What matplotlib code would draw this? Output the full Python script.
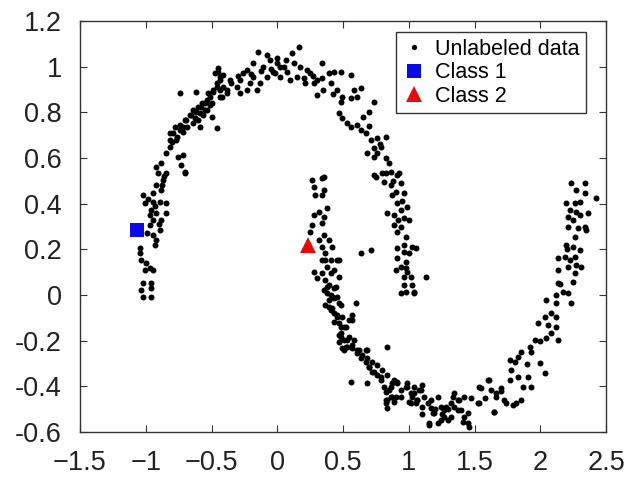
import numpy as np
import matplotlib
matplotlib.use('Agg')
import matplotlib.pyplot as plt

# --- dades llegides de la figura ---
upper_moon = np.array([
    # extrem esquerre
    [-0.844, 0.533], [-0.869, 0.504], [-0.920, 0.482], [-0.882, 0.460], [-0.946, 0.445],
    [-0.704, 0.533], [-1.022, 0.438], [-1.009, 0.402], [-0.946, 0.409], [-0.895, 0.409],
    [-0.844, 0.402], [-0.958, 0.372], [-0.920, 0.358], [-0.844, 0.358], [-0.882, 0.329],
    [-0.946, 0.329], [-0.971, 0.307], [-0.895, 0.285], [-0.946, 0.263], [-0.920, 0.241],
    [-1.047, 0.204], [-1.047, 0.183], [-1.035, 0.154], [-0.996, 0.139], [-0.971, 0.117],
    [-0.946, 0.110], [-1.009, 0.110], [-1.022, 0.051], [-0.958, 0.051], [-1.035, 0.022],
    [-0.958, 0.029], [-1.022, -0.007], [-0.958, -0.007],
    [-0.980, 0.420], [-0.930, 0.390], [-0.970, 0.350], [-0.900, 0.310], [-0.990, 0.270],
    [-0.930, 0.220], [-0.880, 0.480], [-0.860, 0.520],
    # arc esquerre
    [-0.920, 0.562], [-0.882, 0.577], [-0.907, 0.533], [-0.844, 0.621], [-0.818, 0.650],
    [-0.767, 0.679], [-0.793, 0.708], [-0.742, 0.723], [-0.717, 0.737], [-0.755, 0.606],
    [-0.717, 0.613], [-0.729, 0.569], [-0.704, 0.540], [-0.818, 0.679], [-0.691, 0.766],
    [-0.653, 0.788], [-0.615, 0.803], [-0.577, 0.825], [-0.640, 0.752], [-0.602, 0.766],
    [-0.564, 0.788], [-0.538, 0.810], [-0.513, 0.832], [-0.589, 0.737], [-0.551, 0.839],
    [-0.500, 0.781], [-0.462, 0.730], [-0.742, 0.886], [-0.615, 0.891], [-0.526, 0.883],
    [-0.488, 0.898], [-0.462, 0.927], [-0.437, 0.956], [-0.411, 0.912], [-0.475, 0.971],
    [-0.449, 0.993], [-0.424, 0.869], [-0.386, 0.898], [-0.360, 0.942], [-0.437, 0.898],
    [-0.309, 0.912], [-0.284, 0.942], [-0.258, 0.971], [-0.233, 0.985], [-0.208, 0.927],
    [-0.182, 0.956], [-0.157, 0.898], [-0.284, 0.883], [-0.233, 0.898], [-0.131, 0.927],
    [-0.080, 0.956], [-0.106, 1.000], [-0.055, 1.029], [-0.030, 0.978], [-0.144, 1.066],
    [-0.080, 1.051], [-0.004, 1.015], [-0.182, 1.015],
    [-0.817, 0.708], [-0.779, 0.737], [-0.740, 0.745], [-0.702, 0.767], [-0.664, 0.788],
    [-0.639, 0.810], [-0.601, 0.825], [-0.575, 0.840], [-0.537, 0.854], [-0.511, 0.869],
    [-0.486, 0.891], [-0.461, 0.912], [-0.435, 0.942], [-0.410, 0.964], [-0.448, 0.978],
    [-0.804, 0.672], [-0.766, 0.694], [-0.690, 0.737], [-0.626, 0.774], [-0.550, 0.810],
    [-0.499, 0.840], [-0.435, 0.869], [-0.384, 0.883], [-0.715, 0.715], [-0.588, 0.796],
    [-0.350, 0.930], [-0.300, 0.960], [-0.200, 0.970], [-0.120, 0.980], [-0.050, 0.990],
    # part de dalt
    [0.163, 1.088], [0.112, 1.058], [-0.003, 1.037], [0.048, 1.000], [-0.015, 0.971],
    [0.023, 0.956], [0.074, 0.978], [0.125, 1.015], [0.176, 1.000], [0.150, 0.956],
    [0.099, 0.942], [0.226, 0.985], [0.252, 0.971], [0.341, 1.015], [0.214, 0.927],
    [0.277, 0.927], [0.303, 0.942], [0.341, 0.949], [0.392, 0.971], [0.430, 0.978],
    [0.481, 0.978], [0.557, 0.964], [0.405, 0.927], [0.455, 0.898], [0.494, 0.869],
    [0.481, 0.847], [0.303, 0.876], [0.583, 0.898], [0.634, 0.905], [0.608, 0.869],
    [0.557, 0.861], [0.735, 0.847], [0.697, 0.803], [0.468, 0.796], [0.494, 0.774],
    [0.532, 0.752], [0.557, 0.737], [0.608, 0.745], [0.634, 0.723], [0.672, 0.708],
    [0.710, 0.679], [0.761, 0.686], [0.824, 0.694], [0.786, 0.650], [0.735, 0.642],
    [0.685, 0.621], [0.735, 0.606], [0.824, 0.599], [0.761, 0.621], [0.735, 0.526],
    [0.824, 0.533], [0.926, 0.533],
    [0.020, 1.000], [0.070, 1.030], [0.200, 0.950], [0.270, 0.960], [0.350, 0.900],
    [0.420, 0.880], [0.650, 0.780], [0.700, 0.740], [0.780, 0.660], [0.850, 0.580],
    # extrem dret
    [0.748, 0.518], [0.799, 0.533], [0.863, 0.540], [0.913, 0.526], [0.812, 0.497],
    [0.863, 0.482], [0.939, 0.489], [0.875, 0.438], [0.964, 0.445], [0.913, 0.402],
    [0.837, 0.358], [0.888, 0.351], [0.939, 0.372], [0.990, 0.387], [0.964, 0.336],
    [1.003, 0.329], [0.888, 0.307], [0.939, 0.299], [0.913, 0.278], [0.977, 0.256],
    [1.028, 0.212], [1.053, 0.205], [0.913, 0.205], [0.964, 0.190], [1.003, 0.183],
    [0.913, 0.161], [0.977, 0.146], [0.939, 0.124], [0.901, 0.110], [0.990, 0.102],
    [0.964, 0.080], [1.015, 0.080], [1.130, 0.080], [0.964, 0.044], [1.028, 0.044],
    [0.977, 0.015], [1.041, 0.015], [0.939, 0.008], [1.041, 0.008],
    [0.880, 0.500], [0.900, 0.450], [0.950, 0.410], [0.920, 0.330], [0.960, 0.220],
    [0.980, 0.120],
    [0.634, 0.183], [0.710, 0.197],
])

lower_moon = np.array([
    # extrem esquerre
    [0.354, 0.518], [0.265, 0.504], [0.341, 0.511], [0.277, 0.475], [0.354, 0.460],
    [0.290, 0.438], [0.341, 0.438], [0.277, 0.350], [0.315, 0.365], [0.379, 0.380],
    [0.354, 0.343], [0.265, 0.307], [0.341, 0.314], [0.252, 0.278], [0.354, 0.263],
    [0.392, 0.241], [0.315, 0.241], [0.417, 0.212], [0.366, 0.183], [0.341, 0.154],
    [0.405, 0.154], [0.468, 0.154], [0.379, 0.124], [0.430, 0.110], [0.277, 0.102],
    [0.303, 0.073], [0.366, 0.066], [0.392, 0.044], [0.430, 0.029], [0.354, 0.022],
    [0.405, 0.000], [0.455, -0.007],
    [0.341, 0.212], [0.366, 0.153], [0.455, 0.153], [0.341, 0.095], [0.405, 0.095],
    [0.468, 0.081], [0.379, 0.037], [0.443, 0.037], [0.417, -0.007], [0.468, -0.036],
    [0.595, -0.036], [0.392, -0.051], [0.430, -0.080], [0.494, -0.095], [0.570, -0.109],
    [0.468, -0.124], [0.519, -0.139], [0.481, -0.168], [0.545, -0.182], [0.583, -0.197],
    [0.519, -0.226], [0.621, -0.241], [0.684, -0.241],
    # baixada
    [0.379, 0.008], [0.430, -0.014], [0.366, -0.043], [0.405, -0.065], [0.481, -0.043],
    [0.455, -0.095], [0.570, -0.087], [0.545, -0.109], [0.506, -0.138],
    [0.481, -0.182], [0.468, -0.204], [0.532, -0.197], [0.570, -0.219], [0.608, -0.241],
    [0.506, -0.241], [0.646, -0.262], [0.684, -0.277], [0.672, -0.241], [0.723, -0.292],
    [0.697, -0.314], [0.761, -0.306], [0.735, -0.335], [0.799, -0.328], [0.837, -0.226],
    [0.786, -0.357], [0.837, -0.350], [0.888, -0.372], [0.863, -0.401], [0.913, -0.379],
    [0.824, -0.423], [0.863, -0.445], [0.824, -0.474], [0.888, -0.467], [0.939, -0.445],
    [0.557, -0.379], [0.684, -0.387],
    [0.392, -0.022], [0.417, -0.058], [0.456, -0.087], [0.430, -0.116], [0.481, -0.138],
    [0.468, -0.175], [0.506, -0.197], [0.532, -0.226], [0.570, -0.233], [0.608, -0.255],
    [0.634, -0.277], [0.672, -0.292], [0.697, -0.314], [0.723, -0.335], [0.761, -0.350],
    [0.786, -0.372], [0.812, -0.401], [0.850, -0.416], [0.875, -0.445], [0.837, -0.460],
    [0.913, -0.387], [0.939, -0.416], [0.990, -0.401], [1.041, -0.430], [1.092, -0.416],
    [1.066, -0.460], [1.015, -0.474], [0.494, -0.233],
    # fons
    [0.990, -0.387], [1.041, -0.401], [1.079, -0.416], [1.104, -0.394], [1.015, -0.430],
    [1.066, -0.460], [1.117, -0.445], [1.143, -0.474], [1.168, -0.496], [1.219, -0.445],
    [1.193, -0.518], [1.244, -0.489], [1.270, -0.533], [1.321, -0.474], [1.346, -0.430],
    [1.372, -0.503], [1.295, -0.547], [1.155, -0.569], [1.219, -0.562],
    [0.824, -0.460], [0.837, -0.496], [0.901, -0.445], [0.875, -0.387], [0.977, -0.401],
    [1.028, -0.445], [1.053, -0.474], [1.104, -0.489], [1.168, -0.460], [1.181, -0.518],
    [1.244, -0.547], [1.155, -0.562], [1.282, -0.489], [1.333, -0.445], [1.384, -0.460],
    [1.410, -0.555], [1.461, -0.577], [1.448, -0.518], [1.537, -0.401], [1.613, -0.372],
    [1.664, -0.430], [1.651, -0.511], [1.740, -0.474], [1.817, -0.474], [1.537, -0.474],
    [1.200, -0.500], [1.250, -0.520], [1.300, -0.500], [1.100, -0.520], [1.000, -0.470],
    # pujada dreta
    [2.236, 0.489], [2.338, 0.489], [2.275, 0.460], [2.338, 0.445], [2.427, 0.424],
    [2.198, 0.402], [2.262, 0.402], [2.300, 0.409], [2.224, 0.372], [2.275, 0.365],
    [2.364, 0.358], [2.211, 0.343], [2.249, 0.329], [2.211, 0.299], [2.287, 0.292],
    [2.338, 0.299], [2.351, 0.285], [2.262, 0.256], [2.198, 0.219], [2.249, 0.212],
    [2.300, 0.197], [2.135, 0.161], [2.185, 0.168], [2.224, 0.153], [2.262, 0.168],
    [2.211, 0.124], [2.275, 0.132], [2.313, 0.124], [2.135, 0.110], [2.262, 0.095],
    [2.249, 0.059], [2.135, 0.051], [2.173, 0.015], [2.211, 0.008], [2.122, 0.000],
    [2.236, -0.036], [2.046, -0.022], [2.122, -0.036], [2.033, -0.095], [2.122, -0.095],
    [1.982, -0.124], [2.058, -0.131], [2.122, -0.139], [2.084, -0.168], [2.046, -0.190],
    [2.135, -0.197], [1.957, -0.197], [1.918, -0.226], [1.931, -0.248], [1.855, -0.248],
    [1.829, -0.270], [1.804, -0.292], [1.766, -0.285], [1.778, -0.328], [1.829, -0.357],
    [1.906, -0.357], [1.931, -0.401], [1.867, -0.401], [1.766, -0.372], [1.995, -0.299],
    [2.033, -0.343], [1.600, -0.372], [1.549, -0.409], [1.626, -0.416], [1.702, -0.409],
    [1.664, -0.445], [1.727, -0.460], [1.791, -0.482], [1.855, -0.460], [1.524, -0.474],
    [1.473, -0.452], [1.422, -0.445], [1.371, -0.460], [1.346, -0.489], [1.397, -0.503],
    [1.320, -0.533], [1.422, -0.533], [1.448, -0.562], [1.269, -0.503], [1.651, -0.511],
    [1.900, -0.300], [2.000, -0.200], [2.080, -0.080], [2.150, 0.050], [2.200, 0.200],
    [2.300, 0.350], [1.700, -0.420], [1.580, -0.450],
])

class1 = [-1.07, 0.285]
class2 = [0.23, 0.22]

xticks = [-1.5, -1, -0.5, 0, 0.5, 1, 1.5, 2, 2.5]
yticks = [-0.6, -0.4, -0.2, 0, 0.2, 0.4, 0.6, 0.8, 1, 1.2]

plt.rcParams['font.family'] = ['Liberation Sans', 'DejaVu Sans']

fig = plt.figure(figsize=(6.3, 4.84), dpi=100)
ax = fig.add_axes([0.127, 0.1074, 0.835, 0.8492])

unl = np.vstack([upper_moon, lower_moon])
ax.plot(unl[:, 0], unl[:, 1], 'o', color='black', markersize=4.3,
        markeredgewidth=0, label='Unlabeled data')
ax.plot(class1[0], class1[1], 's', color='#0a0ae6', markersize=10,
        markeredgewidth=0, label='Class 1')
ax.plot(class2[0], class2[1], '^', color='#e60a0a', markersize=12,
        markeredgewidth=0, label='Class 2')

ax.set_xlim(-1.5, 2.5)
ax.set_ylim(-0.6, 1.2)
ax.set_xticks(xticks)
ax.set_xticklabels([('\u2212' + f'{abs(v):g}') if v < 0 else f'{v:g}' for v in xticks])
ax.set_yticks(yticks)
ax.set_yticklabels([('-' + f'{abs(v):g}') if v < 0 else f'{v:g}' for v in yticks])
ax.tick_params(direction='in', length=5, width=0.8, top=True, right=True,
               labelsize=19.5, pad=13, colors='#333333', labelcolor='#222222')
for s in ax.spines.values():
    s.set_color('#333333')
    s.set_linewidth(1.0)

leg = ax.legend(loc='upper right', bbox_to_anchor=(0.962, 0.973), borderaxespad=0,
                fontsize=15.5, numpoints=1, fancybox=False, framealpha=1,
                edgecolor='#333333', handlelength=1.0, handletextpad=0.5,
                labelspacing=0.12, borderpad=0.3)
leg.get_frame().set_linewidth(1.0)
leg.legend_handles[0].set_markersize(3.8)

plt.savefig('out.png', dpi=100)
